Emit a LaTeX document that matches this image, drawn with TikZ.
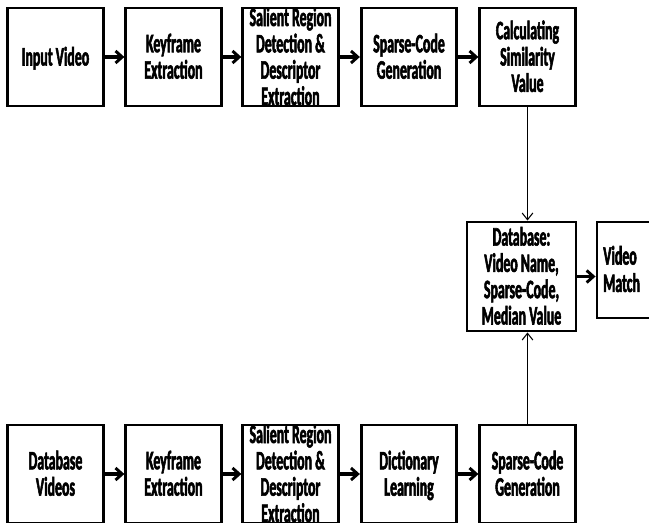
\documentclass[tikz,border=0pt]{standalone}
\usepackage{fontspec}
\newfontfamily\boxfont{Carlito}[FakeStretch=0.52,BoldFeatures={FakeBold=2}]
\usetikzlibrary{arrows.meta}
\newcommand{\bxtext}[1]{\smash{\makebox[0pt]{\raisebox{-7.4pt}{\begin{tabular}{@{}c@{}}#1\end{tabular}}}}}
\begin{document}
\begin{tikzpicture}[x=0.75pt,y=-0.75pt,
  box/.style={draw=black,line width=2.2pt,minimum width=71.5pt,minimum height=73.5pt,inner sep=0pt,
    font=\boxfont\fontsize{20}{19}\selectfont\bfseries},
  flow/.style={line width=2.4pt,-{Straight Barb[length=5pt,width=9pt,line width=2.2pt]}},
  thin/.style={line width=0.8pt,-{Straight Barb[length=5pt,width=8pt,line width=0.8pt]}},
  txt/.style={inner sep=0pt,font=\boxfont\fontsize{20}{20.5}\selectfont\bfseries}]
\useasboundingbox (0,0) rectangle (649,522);
\clip (0,0) rectangle (649,522);
% top row
\node[box] (t1) at (55.5,57) {\bxtext{Input Video}};
\node[box] (t2) at (173.5,57) {\bxtext{Keyframe\\Extraction}};
\node[box] (t3) at (290.5,57) {\bxtext{Salient Region\\Detection \&\\Descriptor\\Extraction}};
\node[box] (t4) at (409,57) {\bxtext{Sparse-Code\\Generation}};
\node[box] (t5) at (527.5,57) {\bxtext{Calculating\\Similarity\\Value}};
% bottom row
\node[box] (b1) at (55.5,474) {\bxtext{Database\\Videos}};
\node[box] (b2) at (173.5,474) {\bxtext{Keyframe\\Extraction}};
\node[box] (b3) at (290.5,474) {\bxtext{Salient Region\\Detection \&\\Descriptor\\Extraction}};
\node[box] (b4) at (409,474) {\bxtext{Dictionary\\Learning}};
\node[box] (b5) at (527.5,474) {\bxtext{Sparse-Code\\Generation}};
% middle
\node[box,minimum width=81.75pt,minimum height=81.75pt] (db) at (521.5,276.5) {\bxtext{Database:\\Video Name,\\Sparse-Code,\\Median Value}};
\node[box,minimum width=48pt,minimum height=72pt] (vm) at (629,270) {};
\node[txt,anchor=west,align=left] (vmt) at (603,269) {Video\\Match};
% arrows
\draw[flow] (t1) -- (t2);
\draw[flow] (t2) -- (t3);
\draw[flow] (t3) -- (t4);
\draw[flow] (t4) -- (t5);
\draw[flow] (b1) -- (b2);
\draw[flow] (b2) -- (b3);
\draw[flow] (b3) -- (b4);
\draw[flow] (b4) -- (b5);
\draw[flow] (db.east) -- (db.east -| vm.west);
\draw[thin] (t5.south) -- (t5.south |- db.north);
\draw[thin] (b5.north) -- (b5.north |- db.south);
\end{tikzpicture}
\end{document}
